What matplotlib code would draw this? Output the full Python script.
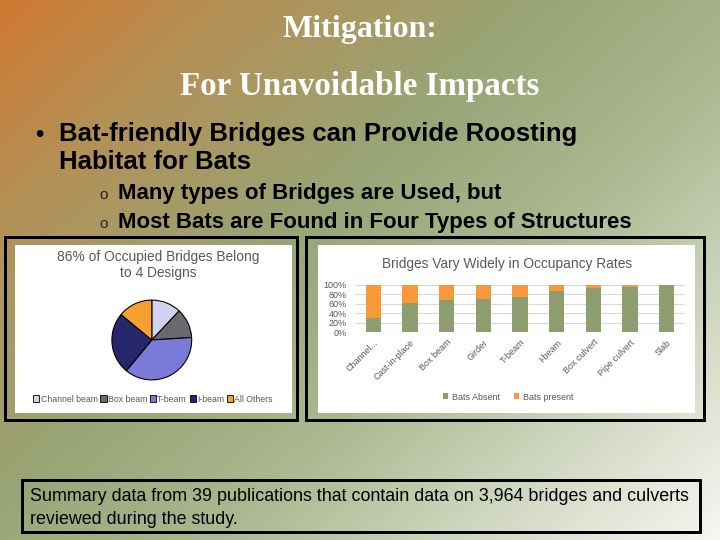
import numpy as np
import matplotlib
matplotlib.use("Agg")
import matplotlib.pyplot as plt
from matplotlib.patches import Rectangle, Patch

# ---------------- data ----------------
pie_labels = ["Channel beam", "Box beam", "T-beam", "I-beam", "All Others"]
pie_values = [12, 12, 37, 25, 14]
pie_colors = ["#d2d2f0", "#6a6a6e", "#7a7ad8", "#26266c", "#f6a032"]

bar_categories = ["Channel...", "Cast-in-place", "Box beam", "Girder", "T-beam",
                  "I-beam", "Box culvert", "Pipe culvert", "Slab"]
bats_absent = [30, 63, 68, 70, 74, 87, 94, 96, 99]
bats_present = [70, 37, 32, 30, 26, 13, 6, 4, 1]
bar_yticks = [0, 20, 40, 60, 80, 100]
bar_yticklabels = ["0%", "20%", "40%", "60%", "80%", "100%"]

title1 = "Mitigation:"
title2 = "For Unavoidable Impacts"
bullet1 = ["Bat-friendly Bridges can Provide Roosting", "Habitat for Bats"]
subbullets = ["Many types of Bridges are Used, but",
              "Most Bats are Found in Four Types of Structures"]
summary_lines = ["Summary data from 39 publications that contain data on 3,964 bridges and culverts",
                 "reviewed during the study."]

W, H = 720, 540
fig = plt.figure(figsize=(7.2, 5.4), dpi=100)

def fx(x):
    return x / W

def fy(y):
    return 1 - y / H

# ---------------- background gradient ----------------
bg = fig.add_axes([0, 0, 1, 1])
xx, yy = np.meshgrid(np.linspace(0, 1, W), np.linspace(0, 1, H))
t = 0.55 * xx + 0.45 * yy
stops = [0.0, 0.18, 0.42, 0.62, 1.0]
cols = np.array([[208, 120, 48], [180, 144, 86], [152, 165, 118],
                 [172, 185, 145], [246, 247, 242]]) / 255.0
img = np.dstack([np.interp(t, stops, cols[:, k]) for k in range(3)])
bg.imshow(img, extent=(0, W, H, 0), aspect="auto", zorder=0)
bg.set_xlim(0, W)
bg.set_ylim(H, 0)
bg.axis("off")

px = 72 / 100  # points per pixel

# frames
bg.add_patch(Rectangle((4.5, 236.5), 292, 183, fill=False, ec="black", lw=3 * px, zorder=2))
bg.add_patch(Rectangle((15, 245), 277, 168, fc="white", ec="none", zorder=1))
bg.add_patch(Rectangle((305.5, 236.5), 398, 183, fill=False, ec="black", lw=3 * px, zorder=2))
bg.add_patch(Rectangle((318, 245), 377, 168, fc="white", ec="none", zorder=1))
# summary box
bg.add_patch(Rectangle((22, 480), 678, 52, fill=False, ec="black", lw=3 * px, zorder=2))

# ---------------- slide texts ----------------
fig.text(fx(360), fy(37), title1, ha="center", va="baseline", fontsize=23,
         family="Liberation Serif", weight="bold", color="white")
fig.text(fx(360), fy(95), title2, ha="center", va="baseline", fontsize=23.8,
         family="Liberation Serif", weight="bold", color="white")

fig.text(fx(35), fy(141), "\u2022", ha="left", va="baseline", fontsize=17,
         family="Liberation Sans", weight="bold", color="black")
for i, line in enumerate(bullet1):
    fig.text(fx(59), fy(141 + 28 * i), line, ha="left", va="baseline", fontsize=18.5,
             family="Liberation Sans", weight="bold", color="black")
for i, line in enumerate(subbullets):
    yb = 199 + 29 * i
    fig.text(fx(99), fy(yb), "o", ha="left", va="baseline", fontsize=11,
             family="Liberation Sans", color="#222222")
    fig.text(fx(118), fy(yb), line, ha="left", va="baseline", fontsize=16,
             family="Liberation Sans", weight="bold", color="black")

for i, line in enumerate(summary_lines):
    fig.text(fx(30), fy(501 + 23 * i), line, ha="left", va="baseline", fontsize=12.9,
             family="Liberation Sans", color="black")

# ---------------- pie chart ----------------
r = 40.7
cx, cy = 151.8, 340
ax_pie = fig.add_axes([fx(cx - r), fy(cy + r), 2 * r / W, 2 * r / H])
ax_pie.pie(pie_values, colors=pie_colors, startangle=90, counterclock=False,
           radius=1, wedgeprops=dict(edgecolor="black", linewidth=0.8))
ax_pie.set_xlim(-1.02, 1.02)
ax_pie.set_ylim(-1.02, 1.02)
ax_pie.axis("off")

fig.text(fx(158), fy(257), "86% of Occupied Bridges Belong", ha="center",
         va="center", fontsize=9.9, family="Liberation Sans", color="#595959")
fig.text(fx(158), fy(273), "to 4 Designs", ha="center",
         va="center", fontsize=9.9, family="Liberation Sans", color="#595959")

pie_handles = [Patch(facecolor=c, edgecolor="black", linewidth=0.6) for c in pie_colors]
fig.legend(pie_handles, pie_labels, loc="center", bbox_to_anchor=(fx(153), fy(399)),
           ncol=5, frameon=False, handlelength=0.7, handleheight=0.7,
           handletextpad=0.15, columnspacing=0.3, borderpad=0,
           prop=dict(family="Liberation Sans", size=6.3), labelcolor="#595959")

# ---------------- bar chart ----------------
ax_bar = fig.add_axes([fx(355), fy(332.3), 330 / W, 47.3 / H])
xpos = np.arange(len(bar_categories))
ax_bar.bar(xpos, bats_absent, width=0.42, color="#8d9d6f", label="Bats Absent", zorder=3)
ax_bar.bar(xpos, bats_present, width=0.42, bottom=bats_absent, color="#f7993a",
           label="Bats present", zorder=3)
ax_bar.set_xlim(-0.5, len(bar_categories) - 0.5)
ax_bar.set_ylim(0, 100)
ax_bar.set_yticks(bar_yticks)
ax_bar.set_yticklabels(bar_yticklabels, fontsize=6.5, color="#595959", family="Liberation Sans")
ax_bar.set_xticks(xpos)
ax_bar.set_xticklabels(bar_categories, rotation=45, ha="right", rotation_mode="anchor",
                       fontsize=6.5, color="#595959", family="Liberation Sans")
ax_bar.tick_params(axis="y", length=0, pad=6)
ax_bar.tick_params(axis="x", length=0, pad=4)
ax_bar.grid(axis="y", color="#d9d9d9", linewidth=0.8, zorder=0)
for s in ax_bar.spines.values():
    s.set_visible(False)
ax_bar.patch.set_alpha(0)

fig.text(fx(507), fy(264), "Bridges Vary Widely in Occupancy Rates", ha="center", va="center",
         fontsize=9.9, family="Liberation Sans", color="#595959")
h_abs = Patch(facecolor="#8d9d6f")
h_pre = Patch(facecolor="#f7993a")
fig.legend([h_abs, h_pre], ["Bats Absent", "Bats present"], loc="center",
           bbox_to_anchor=(fx(508), fy(397)), ncol=2, frameon=False,
           handlelength=0.6, handleheight=0.6, handletextpad=0.4, columnspacing=1.5,
           prop=dict(family="Liberation Sans", size=6.5), labelcolor="#595959")

fig.savefig("out.png", dpi=100)
